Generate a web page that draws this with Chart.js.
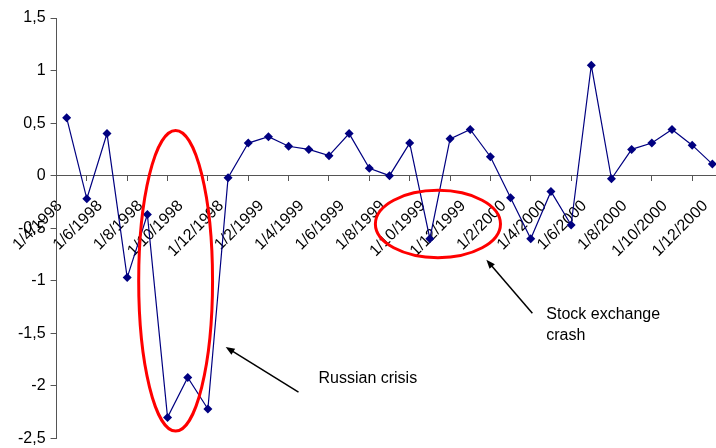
<!DOCTYPE html>
<html>
<head>
<meta charset="utf-8">
<script src="https://cdn.jsdelivr.net/npm/chart.js@4"></script>
<style>
    html, body { margin: 0; padding: 0; background: #fff; overflow: hidden; }
    #wrap { width: 742px; height: 453px; position: relative; }
</style>
</head>
<body>
<div id="wrap"><canvas id="returnsChart"></canvas></div>
<script>
// Monthly observations, April 1998 - December 2000
const months = [
    "1/4/1998", "1/5/1998", "1/6/1998", "1/7/1998", "1/8/1998", "1/9/1998",
    "1/10/1998", "1/11/1998", "1/12/1998",
    "1/1/1999", "1/2/1999", "1/3/1999", "1/4/1999", "1/5/1999", "1/6/1999",
    "1/7/1999", "1/8/1999", "1/9/1999", "1/10/1999", "1/11/1999", "1/12/1999",
    "1/1/2000", "1/2/2000", "1/3/2000", "1/4/2000", "1/5/2000", "1/6/2000",
    "1/7/2000", "1/8/2000", "1/9/2000", "1/10/2000", "1/11/2000", "1/12/2000"
];
const values = [
    0.55, -0.22, 0.40, -0.97, -0.37, -2.30, -1.92, -2.22, -0.02,
    0.31, 0.37, 0.28, 0.25, 0.19, 0.40, 0.07, 0.00, 0.31, -0.60, 0.35, 0.44,
    0.18, -0.21, -0.60, -0.15, -0.47, 1.05, -0.03, 0.25, 0.31, 0.44, 0.29, 0.11
];
const yTicks = [-2.5, -2, -1.5, -1, -0.5, 0, 0.5, 1, 1.5];

// annotation shapes, in data units (category index, value)
const russianEllipse = { x1: 3.57, x2: 7.23, y1: 0.43, y2: -2.43 };
const crashEllipse = { x1: 15.3, x2: 21.5, y1: -0.14, y2: -0.78 };
const arrows = [
    { from: [11.49, -2.06], to: [7.88, -1.63] },
    { from: [23.08, -1.31], to: [20.8, -0.80] }
];
const notes = [
    { lines: ["Russian crisis"], at: [12.48, -1.97] },
    { lines: ["Stock exchange", "crash"], at: [23.77, -1.36] }
];

const annotations = {
    id: "annotations",
    afterDraw(chart) {
        const { ctx, scales: { x, y } } = chart;
        const px = v => x.getPixelForValue(v);
        const py = v => y.getPixelForValue(v);
        ctx.save();
        ctx.strokeStyle = "#ff0000";
        ctx.lineWidth = 3;
        [russianEllipse, crashEllipse].forEach(e => {
            const l = px(e.x1), r = px(e.x2), t = py(e.y1), b = py(e.y2);
            ctx.beginPath();
            ctx.ellipse((l + r) / 2, (t + b) / 2, (r - l) / 2, (b - t) / 2, 0, 0, Math.PI * 2);
            ctx.stroke();
        });
        ctx.strokeStyle = "#000";
        ctx.fillStyle = "#000";
        ctx.lineWidth = 1.5;
        arrows.forEach(a => {
            const x0 = px(a.from[0]), y0 = py(a.from[1]);
            const x1 = px(a.to[0]), y1 = py(a.to[1]);
            const ang = Math.atan2(y1 - y0, x1 - x0);
            ctx.beginPath();
            ctx.moveTo(x0, y0);
            ctx.lineTo(x1 - 6 * Math.cos(ang), y1 - 6 * Math.sin(ang));
            ctx.stroke();
            ctx.beginPath();
            ctx.moveTo(x1, y1);
            ctx.lineTo(x1 - 9 * Math.cos(ang) + 3.5 * Math.sin(ang), y1 - 9 * Math.sin(ang) - 3.5 * Math.cos(ang));
            ctx.lineTo(x1 - 9 * Math.cos(ang) - 3.5 * Math.sin(ang), y1 - 9 * Math.sin(ang) + 3.5 * Math.cos(ang));
            ctx.closePath();
            ctx.fill();
        });
        ctx.font = "16px 'Liberation Sans', Arial, sans-serif";
        ctx.fillStyle = "#000";
        ctx.textBaseline = "alphabetic";
        notes.forEach(n => {
            n.lines.forEach((line, i) => {
                ctx.fillText(line, px(n.at[0]), py(n.at[1]) + i * 21);
            });
        });
        ctx.restore();
    }
};

const fmt = v => String(v).replace(".", ",");

new Chart(document.getElementById("returnsChart"), {
    type: "line",
    data: {
        labels: months,
        datasets: [{
            data: values,
            borderColor: "#000080",
            backgroundColor: "#000080",
            borderWidth: 1.2,
            pointStyle: "rectRot",
            pointRadius: 4.5,
            pointBorderWidth: 0,
            tension: 0
        }]
    },
    options: {
        responsive: true,
        maintainAspectRatio: false,
        animation: false,
        layout: { padding: { top: 18, bottom: 0, right: 0, left: 13 } },
        plugins: {
            legend: { display: false },
            tooltip: { enabled: false }
        },
        scales: {
            x: {
                type: "category",
                position: { y: 0 },
                offset: true,
                grid: {
                    offset: true,
                    drawOnChartArea: false,
                    drawTicks: true,
                    tickLength: 5,
                    color: "#555"
                },
                border: { color: "#555", width: 1 },
                ticks: {
                    autoSkip: false,
                    maxRotation: 45,
                    minRotation: 45,
                    labelOffset: -7,
                    padding: 16,
                    color: "#000",
                    font: { family: "'Liberation Sans', Arial, sans-serif", size: 16 },
                    callback: function(value, index) {
                        return index % 2 === 0 ? this.getLabelForValue(value) : null;
                    }
                }
            },
            y: {
                min: -2.5,
                max: 1.5,
                afterBuildTicks: axis => { axis.ticks = yTicks.map(v => ({ value: v })); },
                grid: {
                    drawOnChartArea: false,
                    drawTicks: true,
                    tickLength: 6,
                    color: "#555"
                },
                border: { color: "#555", width: 1 },
                ticks: {
                    padding: 5,
                    color: "#000",
                    font: { family: "'Liberation Sans', Arial, sans-serif", size: 16 },
                    callback: v => fmt(v)
                }
            }
        }
    },
    plugins: [annotations]
});
</script>
</body>
</html>
